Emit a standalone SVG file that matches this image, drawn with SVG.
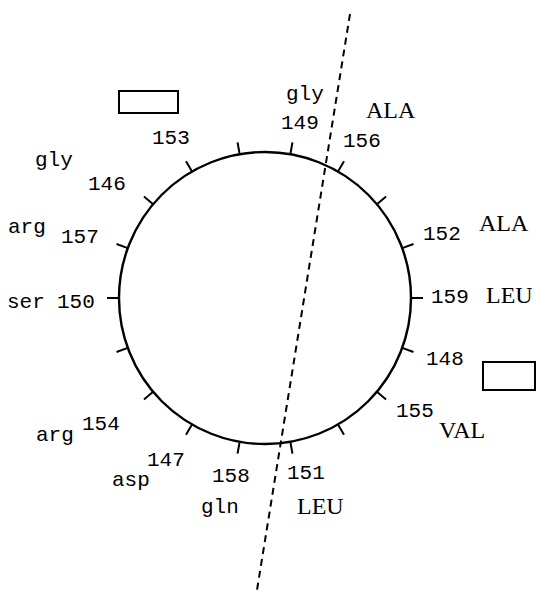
<svg xmlns="http://www.w3.org/2000/svg" width="537" height="593" viewBox="0 0 537 593">
<style>
.c{fill:none;stroke:#000;stroke-width:2.4}
.t{stroke:#000;stroke-width:2}
.n{font-family:"Liberation Mono","DejaVu Sans Mono",monospace;font-size:21px;fill:#000}
.u{font-family:"Liberation Serif","DejaVu Serif",serif;font-size:24px;fill:#000}
.r{fill:#fff;stroke:#000;stroke-width:2}
.d{stroke:#000;stroke-width:2;stroke-dasharray:7 5;fill:none}
</style>
<rect width="537" height="593" fill="#fff"/>
<g id="wheel">
<circle class="c" cx="265" cy="298" r="146"/>
<g transform="translate(265 298)">
<line class="t" x1="146" y1="0" x2="158" y2="0" transform="rotate(0)"/>
<line class="t" x1="146" y1="0" x2="158" y2="0" transform="rotate(-20)"/>
<line class="t" x1="146" y1="0" x2="158" y2="0" transform="rotate(-40)"/>
<line class="t" x1="146" y1="0" x2="158" y2="0" transform="rotate(-60)"/>
<line class="t" x1="146" y1="0" x2="158" y2="0" transform="rotate(-80)"/>
<line class="t" x1="146" y1="0" x2="158" y2="0" transform="rotate(-100)"/>
<line class="t" x1="146" y1="0" x2="158" y2="0" transform="rotate(-120)"/>
<line class="t" x1="146" y1="0" x2="158" y2="0" transform="rotate(-140)"/>
<line class="t" x1="146" y1="0" x2="158" y2="0" transform="rotate(-160)"/>
<line class="t" x1="146" y1="0" x2="158" y2="0" transform="rotate(-180)"/>
<line class="t" x1="146" y1="0" x2="158" y2="0" transform="rotate(-200)"/>
<line class="t" x1="146" y1="0" x2="158" y2="0" transform="rotate(-220)"/>
<line class="t" x1="146" y1="0" x2="158" y2="0" transform="rotate(-240)"/>
<line class="t" x1="146" y1="0" x2="158" y2="0" transform="rotate(-260)"/>
<line class="t" x1="146" y1="0" x2="158" y2="0" transform="rotate(-280)"/>
<line class="t" x1="146" y1="0" x2="158" y2="0" transform="rotate(-300)"/>
<line class="t" x1="146" y1="0" x2="158" y2="0" transform="rotate(-320)"/>
<line class="t" x1="146" y1="0" x2="158" y2="0" transform="rotate(-340)"/>
</g>
</g>
<g id="connectors">
<line class="d" x1="350" y1="14" x2="257" y2="590"/>
</g>
<g id="boxes">
<rect class="r" x="119" y="91" width="59" height="22"/>
<rect class="r" x="483" y="362" width="52" height="28"/>
</g>
<g id="labels">
<text class="n" x="286" y="100">gly</text>
<text class="n" x="281" y="129">149</text>
<text class="n" x="152" y="144">153</text>
<text class="n" x="88" y="190">146</text>
<text class="n" x="35" y="166">gly</text>
<text class="u" x="366" y="118">ALA</text>
<text class="n" x="343" y="147">156</text>
<text class="n" x="423" y="240">152</text>
<text class="u" x="479" y="231">ALA</text>
<text class="n" x="8" y="233">arg</text>
<text class="n" x="61" y="243">157</text>
<text class="n" x="7" y="308">ser</text>
<text class="n" x="57" y="308">150</text>
<text class="n" x="431" y="303">159</text>
<text class="u" x="486" y="303">LEU</text>
<text class="n" x="426" y="365">148</text>
<text class="n" x="396" y="417">155</text>
<text class="u" x="439" y="438">VAL</text>
<text class="n" x="36" y="441">arg</text>
<text class="n" x="82" y="430">154</text>
<text class="n" x="147" y="466">147</text>
<text class="n" x="112" y="486">asp</text>
<text class="n" x="212" y="482">158</text>
<text class="n" x="201" y="513">gln</text>
<text class="n" x="287" y="479">151</text>
<text class="u" x="297" y="514">LEU</text>
</g>
</svg>
